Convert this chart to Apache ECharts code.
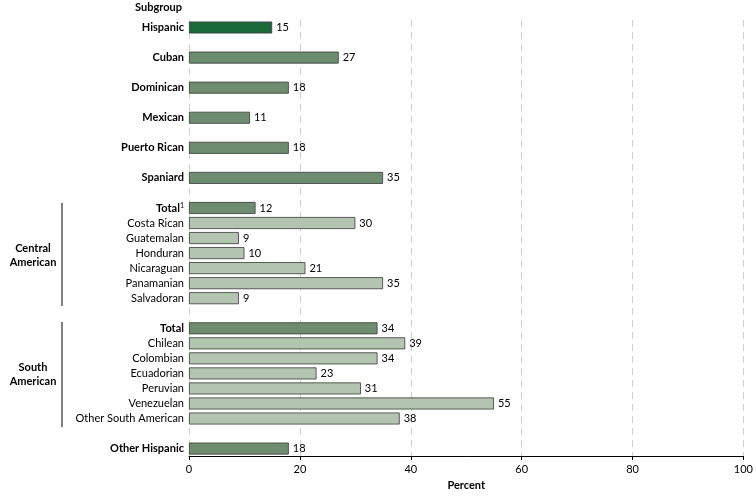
<!DOCTYPE html>
<html><head><meta charset="utf-8">
<script src="https://cdn.jsdelivr.net/npm/echarts@6/dist/echarts.min.js"></script>
<style>html,body{margin:0;padding:0;background:#fff}#c{width:756px;height:496px}</style>
</head><body><div id="c"></div>
<script>
// '' entries are spacer rows
var categories = ['Hispanic', '', 'Cuban', '', 'Dominican', '', 'Mexican', '', 'Puerto Rican', '', 'Spaniard', '',
    'Total', 'Costa Rican', 'Guatemalan', 'Honduran', 'Nicaraguan', 'Panamanian', 'Salvadoran', '',
    'Total ', 'Chilean', 'Colombian', 'Ecuadorian', 'Peruvian', 'Venezuelan', 'Other South American', '',
    'Other Hispanic'];
var values = [15, '-', 27, '-', 18, '-', 11, '-', 18, '-', 35, '-',
    12, 30, 9, 10, 21, 35, 9, '-',
    34, 39, 34, 23, 31, 55, 38, '-',
    18];
// level: 0 = all Hispanic, 1 = main group, 2 = subgroup
var levels = [0, 0, 1, 0, 1, 0, 1, 0, 1, 0, 1, 0,
    1, 2, 2, 2, 2, 2, 2, 0,
    1, 2, 2, 2, 2, 2, 2, 0,
    1];
var xTicks = [0, 20, 40, 60, 80, 100];

var fillColors = ['#1b6b3a', '#6e8d70', '#b3c5b0'];
var font = 'Lato';

var chart = echarts.init(document.getElementById('c'));
chart.setOption({
    animation: false,
    textStyle: { fontFamily: font },
    grid: { left: 189, right: 11, top: 20, bottom: 38 },
    xAxis: {
        type: 'value', min: xTicks[0], max: xTicks[xTicks.length - 1], interval: 20,
        name: 'Percent', nameLocation: 'middle', nameGap: 22,
        nameTextStyle: { fontWeight: 'bold', fontSize: 11, color: '#000' },
        axisLine: { show: true, lineStyle: { color: '#000' } },
        axisTick: { show: true, length: 4, lineStyle: { color: '#000' } },
        axisLabel: { color: '#000', fontSize: 11 },
        splitLine: { show: true, lineStyle: { color: '#cfcfcf', type: [7, 5] } }
    },
    yAxis: {
        type: 'category', data: categories, inverse: true,
        axisLine: { show: false }, axisTick: { show: false },
        axisLabel: {
            interval: 0, margin: 5, fontSize: 11, color: '#000',
            formatter: function(v, i) {
                if (v === '') return '';
                var t = v.trim();
                if (levels[i] === 2) return t;
                if (i === 12) return '{b|' + t + '}{sup|1}';
                return '{b|' + t + '}';
            },
            rich: {
                b: { fontWeight: 'bold', fontSize: 11, fontFamily: font },
                sup: { fontSize: 7, verticalAlign: 'top', padding: [0, 0, 5, 0], fontFamily: font }
            }
        }
    },
    series: [{
        type: 'bar', barWidth: 12,
        data: values.map(function(v, i) {
            return { value: v, itemStyle: { color: fillColors[levels[i]] } };
        }),
        itemStyle: { borderColor: '#3a3a3a', borderWidth: 0.8 },
        label: { show: true, position: 'right', distance: 4, color: '#000', fontSize: 11 }
    }],
    graphic: [
        { type: 'text', left: 135, top: 2, style: { text: 'Subgroup', font: 'bold 11px ' + font, fill: '#000' } },
        { type: 'line', shape: { x1: 62, y1: 203, x2: 62, y2: 306 }, style: { stroke: '#000', lineWidth: 1 } },
        { type: 'text', x: 33, y: 255, style: { text: 'Central\nAmerican', font: 'bold 11px ' + font, fill: '#000', align: 'center', verticalAlign: 'middle', lineHeight: 14 } },
        { type: 'line', shape: { x1: 62, y1: 322, x2: 62, y2: 427 }, style: { stroke: '#000', lineWidth: 1 } },
        { type: 'text', x: 33, y: 374, style: { text: 'South\nAmerican', font: 'bold 11px ' + font, fill: '#000', align: 'center', verticalAlign: 'middle', lineHeight: 14 } }
    ]
});
</script>
</body></html>
